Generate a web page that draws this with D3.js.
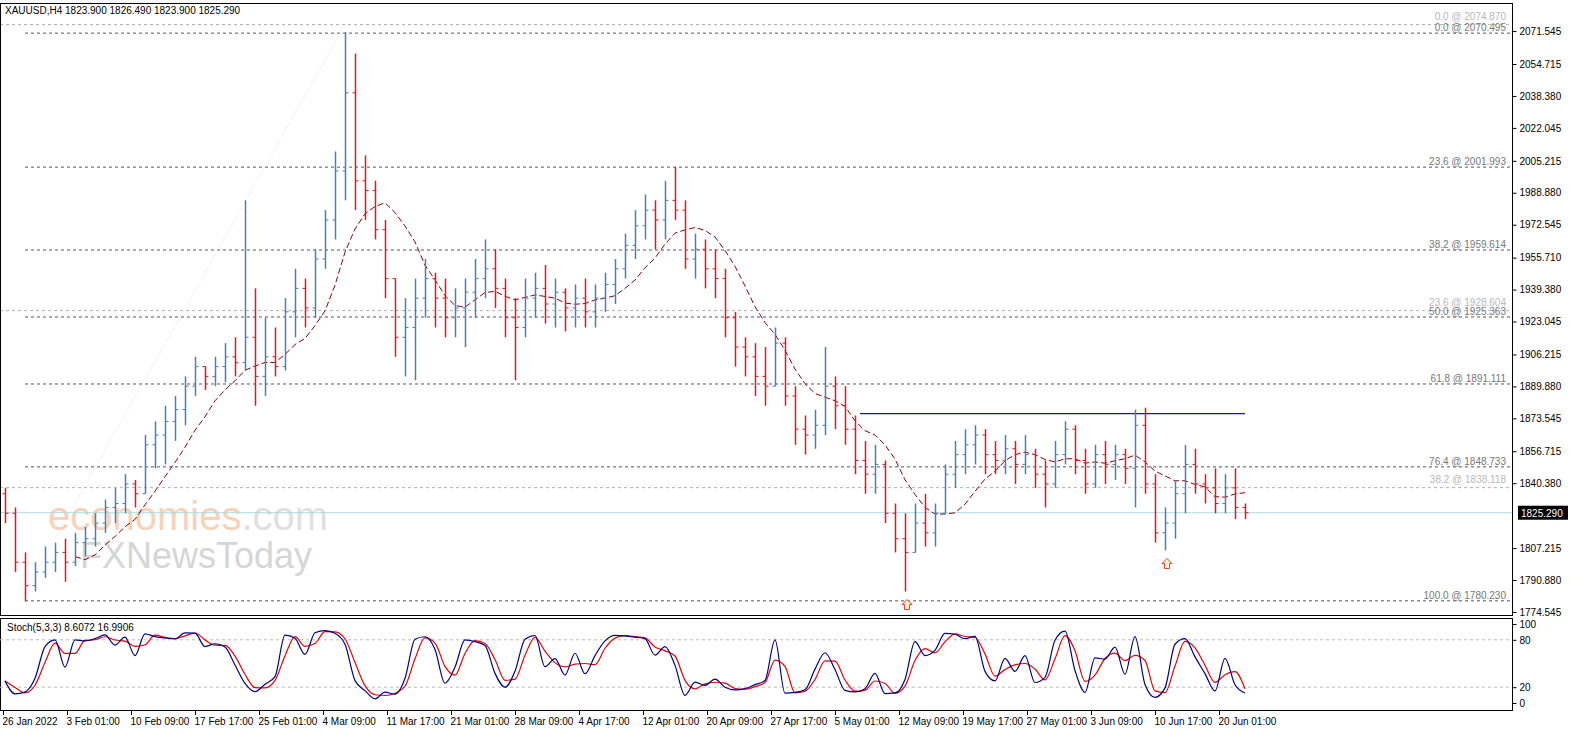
<!DOCTYPE html>
<html><head><meta charset="utf-8">
<script src="https://cdn.jsdelivr.net/npm/d3@7"></script>
<style>body{margin:0;background:#fff;font-family:"Liberation Sans",Arial,sans-serif}</style>
</head><body><div id="chart"></div>
<script>
// OHLC bars (4h, resampled), open = previous close
const highs = [1838,1828,1805,1800,1808,1810,1812,1815,1818,1825,1832,1838,1845,1842,1865,1872,1880,1885,1895,1905,
  1900,1905,1912,1915,1985,1940,1925,1920,1935,1950,1945,1960,1980,2010,2071,2060,2008,1995,1975,1945,
  1935,1945,1955,1948,1945,1940,1945,1955,1965,1960,1945,1935,1945,1948,1952,1945,1940,1942,1945,1942,
  1948,1955,1968,1980,1988,1985,1995,2002,1985,1968,1965,1960,1950,1928,1915,1912,1910,1920,1915,1890,
  1875,1878,1910,1895,1890,1875,1862,1860,1852,1830,1825,1830,1835,1830,1850,1862,1868,1870,1868,1862,
  1865,1862,1865,1858,1852,1862,1872,1870,1858,1860,1862,1860,1858,1878,1879,1845,1828,1842,1860,1858,
  1845,1848,1845,1848,1830];
const lows = [1820,1795,1780,1785,1792,1795,1790,1798,1803,1808,1815,1820,1825,1828,1835,1848,1850,1862,1870,1885,
  1888,1890,1892,1895,1898,1880,1885,1895,1898,1915,1920,1925,1950,1965,1985,1980,1975,1965,1935,1905,
  1895,1893,1925,1920,1915,1915,1910,1925,1935,1930,1915,1893,1915,1925,1922,1920,1918,1920,1920,1920,
  1928,1932,1945,1955,1965,1960,1965,1975,1950,1945,1940,1935,1915,1900,1895,1885,1880,1890,1880,1860,
  1855,1858,1865,1868,1860,1845,1835,1835,1820,1805,1785,1805,1808,1808,1825,1838,1845,1850,1845,1845,
  1845,1840,1845,1838,1828,1838,1850,1845,1835,1838,1840,1842,1840,1828,1835,1810,1806,1812,1825,1835,
  1830,1825,1825,1822,1822];
const closes = [1825,1800,1788,1795,1800,1805,1800,1810,1812,1820,1828,1830,1840,1835,1860,1865,1872,1878,1890,1900,
  1895,1900,1905,1902,1915,1895,1905,1900,1928,1940,1930,1955,1975,2000,2040,1995,1990,1970,1945,1915,
  1920,1935,1945,1935,1925,1930,1938,1945,1950,1940,1925,1920,1935,1940,1932,1938,1930,1935,1928,1935,
  1942,1950,1962,1972,1980,1975,1985,1980,1955,1960,1950,1945,1925,1910,1905,1895,1890,1912,1885,1868,
  1865,1870,1890,1880,1868,1852,1845,1850,1825,1812,1805,1820,1815,1825,1845,1855,1860,1865,1855,1852,
  1858,1850,1855,1845,1840,1855,1868,1852,1840,1855,1850,1855,1848,1870,1840,1815,1820,1835,1850,1840,
  1838,1830,1838,1828,1825.29];
const opens = closes.map((c, i) => i === 0 ? 1835 : closes[i - 1]);

const priceTicks = [2071.545,2054.715,2038.380,2022.045,2005.215,1988.880,1972.545,1955.710,1939.380,1923.045,
  1906.215,1889.880,1873.545,1856.715,1840.380,1807.215,1790.880,1774.545];
const fibLevels = [
  {t:'0.0 @ 2074.870', v:2074.870, light:true},
  {t:'0.0 @ 2070.495', v:2070.495},
  {t:'23.6 @ 2001.993', v:2001.993},
  {t:'38.2 @ 1959.614', v:1959.614},
  {t:'23.6 @ 1928.604', v:1928.604, light:true},
  {t:'50.0 @ 1925.363', v:1925.363},
  {t:'61.8 @ 1891.111', v:1891.111},
  {t:'76.4 @ 1848.733', v:1848.733},
  {t:'38.2 @ 1838.118', v:1838.118, light:true},
  {t:'100.0 @ 1780.230', v:1780.230}
];
const timeLabels = ['26 Jan 2022','3 Feb 01:00','10 Feb 09:00','17 Feb 17:00','25 Feb 01:00','4 Mar 09:00',
  '11 Mar 17:00','21 Mar 01:00','28 Mar 09:00','4 Apr 17:00','12 Apr 01:00','20 Apr 09:00','27 Apr 17:00',
  '5 May 01:00','12 May 09:00','19 May 17:00','27 May 01:00','3 Jun 09:00','10 Jun 17:00','20 Jun 01:00'];
const resistance = 1876;
const lastPrice = 1825.29;
const arrowBars = [90, 116];

const W = 1596, H = 743, axisX = 1512;
const FONT = '"Liberation Sans", Arial, sans-serif';
const svg = d3.select('#chart').append('svg').attr('width', W).attr('height', H)
  .style('font-family', FONT);

const x = d3.scaleLinear().domain([0, closes.length - 1]).range([5, 1245]);
const y = d3.scaleLinear().domain([1773, 2085.9]).range([615, 3]);

// fib levels
fibLevels.forEach(f => {
  svg.append('line').attr('x1', f.light ? 0 : 25).attr('x2', axisX).attr('y1', y(f.v)).attr('y2', y(f.v))
    .attr('stroke', f.light ? '#b0b0b0' : '#555').attr('stroke-dasharray', '3,3');
  svg.append('text').attr('x', axisX - 6).attr('y', y(f.v) - (f.light ? 5 : 2)).attr('text-anchor', 'end')
    .attr('font-size', 10).attr('fill', f.light ? '#b8b8b8' : '#777').text(f.t);
});
// fib trend line
svg.append('line').attr('x1', x(1.5)).attr('y1', y(1780.23)).attr('x2', x(34)).attr('y2', y(2074.87))
  .attr('stroke', '#ddd').attr('stroke-dasharray', '1,2');

// watermark
const wm = svg.append('text').attr('x', 48).attr('y', 530).attr('font-size', 40).attr('opacity', 0.6).attr('font-family', FONT);
wm.append('tspan').attr('fill', '#f3b48a').text('economies');
wm.append('tspan').attr('fill', '#ccc').text('.com');
svg.append('text').attr('x', 80).attr('y', 568).attr('font-size', 36).attr('fill', '#bbb').attr('opacity', 0.6)
  .attr('font-family', FONT).text('FXNewsToday');

// current price line
svg.append('line').attr('x1', 0).attr('x2', axisX).attr('y1', y(lastPrice)).attr('y2', y(lastPrice))
  .attr('stroke', '#a8dde3');
// resistance
svg.append('line').attr('x1', x(85.5)).attr('x2', x(124)).attr('y1', y(resistance)).attr('y2', y(resistance))
  .attr('stroke', '#1a1a8c').attr('stroke-width', 1.3);

// moving average
const P = 7;
const ma = closes.map((c, i) => i < P ? null : d3.mean(closes.slice(i - P, i + 1)));
svg.append('path').attr('d', d3.line().defined(d => d[1] != null).x(d => x(d[0])).y(d => y(d[1]))
  (ma.map((v, i) => [i, v]))).attr('fill', 'none').attr('stroke', '#8b0000').attr('stroke-dasharray', '6,3');

// OHLC bars
const bars = svg.append('g');
closes.forEach((c, i) => {
  const col = c >= opens[i] ? '#4a7fb5' : '#e8141c';
  const cx = Math.round(x(i)) + 0.5;
  bars.append('line').attr('x1', cx).attr('x2', cx).attr('y1', y(highs[i])).attr('y2', y(lows[i])).attr('stroke', col).attr('stroke-width', 1.5);
  bars.append('line').attr('x1', cx - 3).attr('x2', cx).attr('y1', y(opens[i])).attr('y2', y(opens[i])).attr('stroke', col);
  bars.append('line').attr('x1', cx).attr('x2', cx + 3).attr('y1', y(c)).attr('y2', y(c)).attr('stroke', col);
});

// arrows (outlined up arrows under lows)
arrowBars.forEach(i => {
  const ax0 = x(i) + 2, ay0 = y(lows[i]) + 8;
  svg.append('path')
    .attr('d', `M${ax0},${ay0} l5,5 h-2.5 v5 h-5 v-5 h-2.5 z`)
    .attr('fill', '#fff2cc').attr('stroke', '#f03c2c').attr('stroke-width', 1);
});

// panels
svg.append('rect').attr('x', 0.5).attr('y', 3.5).attr('width', axisX).attr('height', 612).attr('fill', 'none').attr('stroke', '#000');
svg.append('rect').attr('x', 0.5).attr('y', 618.5).attr('width', axisX).attr('height', 92).attr('fill', 'none').attr('stroke', '#000');

// price axis
const ay = svg.append('g').attr('transform', `translate(${axisX + 0.5},0)`)
  .call(d3.axisRight(y).tickValues(priceTicks).tickFormat(d3.format('.3f')).tickSize(4));
ay.select('.domain').remove();
ay.selectAll('text').attr('font-size', 10).attr('fill', '#000').attr('font-family', FONT);
svg.append('rect').attr('x', axisX + 6).attr('y', y(lastPrice) - 7).attr('width', 50).attr('height', 14).attr('fill', '#000');
svg.append('text').attr('x', axisX + 9).attr('y', y(lastPrice) + 4).attr('font-size', 10).attr('fill', '#fff').text(lastPrice.toFixed(3));

svg.append('text').attr('x', 5).attr('y', 14).attr('font-size', 10).attr('fill', '#000')
  .text('XAUUSD,H4  1823.900 1826.490 1823.900 1825.290');

// stochastic approximated on resampled bars
const kRaw = closes.map((c, i) => {
  const s = Math.max(0, i - 2);
  const hh = d3.max(highs.slice(s, i + 1)), ll = d3.min(lows.slice(s, i + 1));
  return hh === ll ? 50 : (c - ll) / (hh - ll) * 100;
});
const k = kRaw;
const dl = k.map((v, i) => d3.mean(k.slice(Math.max(0, i - 1), i + 1)));
const ys = d3.scaleLinear().domain([0, 100]).range([703, 624]);
[20, 80].forEach(v => svg.append('line').attr('x1', 0).attr('x2', axisX).attr('y1', ys(v)).attr('y2', ys(v))
  .attr('stroke', '#bbb').attr('stroke-dasharray', '3,3'));
const sl = d3.line().x((d, i) => x(i)).y(d => ys(d)).curve(d3.curveMonotoneX);
svg.append('path').attr('d', sl(dl)).attr('fill', 'none').attr('stroke', '#e00').attr('stroke-width', 1.2);
svg.append('path').attr('d', sl(k)).attr('fill', 'none').attr('stroke', '#00008b').attr('stroke-width', 1.2);
const as = svg.append('g').attr('transform', `translate(${axisX + 0.5},0)`)
  .call(d3.axisRight(ys).tickValues([0, 20, 80, 100]).tickSize(4));
as.select('.domain').remove();
as.selectAll('text').attr('font-size', 10).attr('fill', '#000').attr('font-family', FONT);
svg.append('text').attr('x', 7).attr('y', 631).attr('font-size', 10).attr('fill', '#000').text('Stoch(5,3,3) 8.6072 16.9906');

// time axis
const labelIdx = timeLabels.map((t, j) => j * 6.4 - 0.2);
const ax = svg.append('g').attr('transform', 'translate(0,711)')
  .call(d3.axisBottom(x).tickValues(labelIdx).tickFormat((d, j) => timeLabels[j]).tickSize(4));
ax.select('.domain').remove();
ax.selectAll('text').attr('font-size', 10).attr('fill', '#000').attr('text-anchor', 'start').attr('dx', -1)
  .attr('font-family', FONT);
</script></body></html>
